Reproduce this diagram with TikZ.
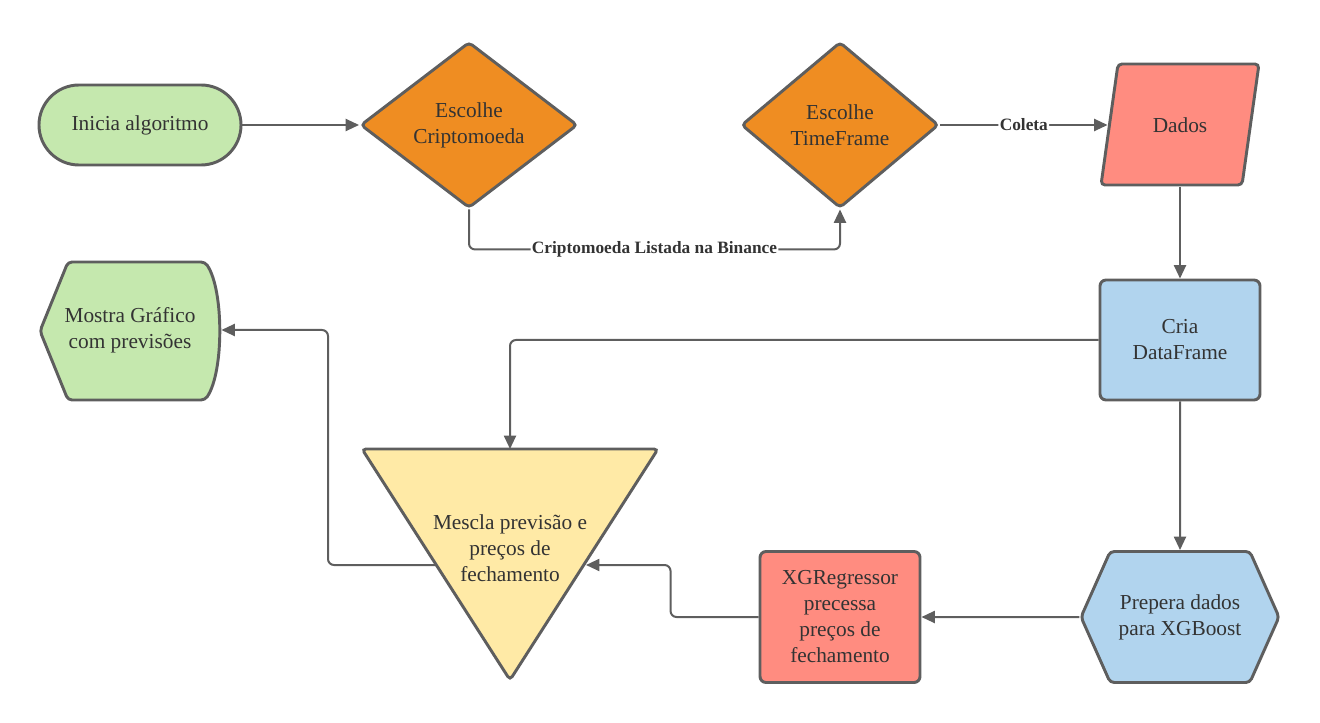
\documentclass[tikz,border=0pt]{standalone}
\usepackage{fontspec}
\setmainfont{Liberation Serif}
\usetikzlibrary{shapes.geometric,shapes.symbols,arrows.meta}
\definecolor{linegray}{HTML}{5E5E5E}
\definecolor{textgray}{HTML}{333333}
\definecolor{termgreen}{HTML}{C5E8AE}
\definecolor{decorange}{HTML}{EF8D22}
\definecolor{datared}{HTML}{FF8C80}
\definecolor{procblue}{HTML}{B1D4EE}
\definecolor{mergeyellow}{HTML}{FFEAA6}
\tikzset{
  shapebox/.style={draw=linegray, line width=2.2pt, align=center, text=textgray,
    font=\fontsize{16}{19.5}\selectfont, inner sep=0pt},
  conn/.style={draw=linegray, line width=1.5pt, rounded corners=4.5pt,
    -{Triangle[length=10pt,width=9pt]}},
  lbl/.style={fill=white, text=textgray, font=\bfseries\fontsize{13}{15}\selectfont, inner sep=1pt}
}
\begin{document}
\begin{tikzpicture}[x=0.75pt,y=-0.75pt]
            \useasboundingbox (0,0) rectangle (1320,723);
            % top row
            \node[shapebox, fill=termgreen, rounded corners=30pt, minimum width=151.5pt, minimum height=60pt] (inicia) at (140,125) {Inicia algoritmo};
            \node[shapebox, fill=decorange, diamond, rounded corners=3pt, minimum width=162.75pt, minimum height=124.5pt] (cripto) at (469,125) {Escolhe\\Criptomoeda};
            \node[shapebox, fill=decorange, diamond, rounded corners=3pt, minimum width=148pt, minimum height=124.5pt] (timeframe) at (840,125) {Escolhe\\TimeFrame};
            \draw[shapebox, fill=datared, rounded corners=3pt] (1118,64) -- (1259,64) -- (1242,185) -- (1101,185) -- cycle;
            \node[shapebox, draw=none, minimum width=106.5pt, minimum height=90.75pt] (dados) at (1180,125) {Dados};
            % right column
            \node[shapebox, fill=procblue, rounded corners=4.5pt, minimum width=120pt, minimum height=90pt] (cria) at (1180,340) {Cria\\DataFrame};
            \node[shapebox, fill=procblue, signal, signal to=west and east, signal pointer angle=132, rounded corners=3pt, minimum width=148.5pt, minimum height=98.25pt] (prepara) at (1180,617) {Prepera dados\\para XGBoost};
            \node[shapebox, fill=datared, rounded corners=4.5pt, minimum width=120pt, minimum height=98.25pt] (xgreg) at (840,617) {XGRegressor\\precessa\\preços de\\fechamento};
            % merge triangle and display
            \draw[shapebox, fill=mergeyellow, rounded corners=3pt] (362,449) -- (658,449) -- (510,680) -- cycle;
            \node[shapebox, draw=none] (mescla) at (510,548) {Mescla previsão e\\preços de\\fechamento};
            \coordinate (mesclaN) at (510,449);
            \coordinate (mesclaL) at (436,565);
            \coordinate (mesclaR) at (586,565);
            \draw[shapebox, fill=termgreen, rounded corners=3pt] (68,262) -- (205,262) .. controls (224,290) and (224,372) .. (205,400) -- (68,400) -- (40,331) -- cycle;
            \node[shapebox, draw=none, minimum width=135pt, minimum height=30pt] (mostra) at (130,330) {Mostra Gráfico\\com previsões};
            % connectors
            \draw[conn] (inicia) -- (cripto);
            \draw[conn] (cripto.south) -- ++(0,40) -| node[lbl, pos=0.25] {Criptomoeda Listada na Binance} (timeframe.south);
            \draw[conn] (timeframe) -- node[lbl] {Coleta} (dados);
            \draw[conn] (dados) -- (cria);
            \draw[conn] (cria.west) -| (mesclaN);
            \draw[conn] (cria) -- (prepara);
            \draw[conn] (prepara) -- (xgreg);
            \draw[conn] (xgreg.west) -- ++(-88,0) |- (mesclaR);
            \draw[conn] (mesclaL) -- ++(-108,0) |- (mostra.east);
        \end{tikzpicture}
\end{document}
